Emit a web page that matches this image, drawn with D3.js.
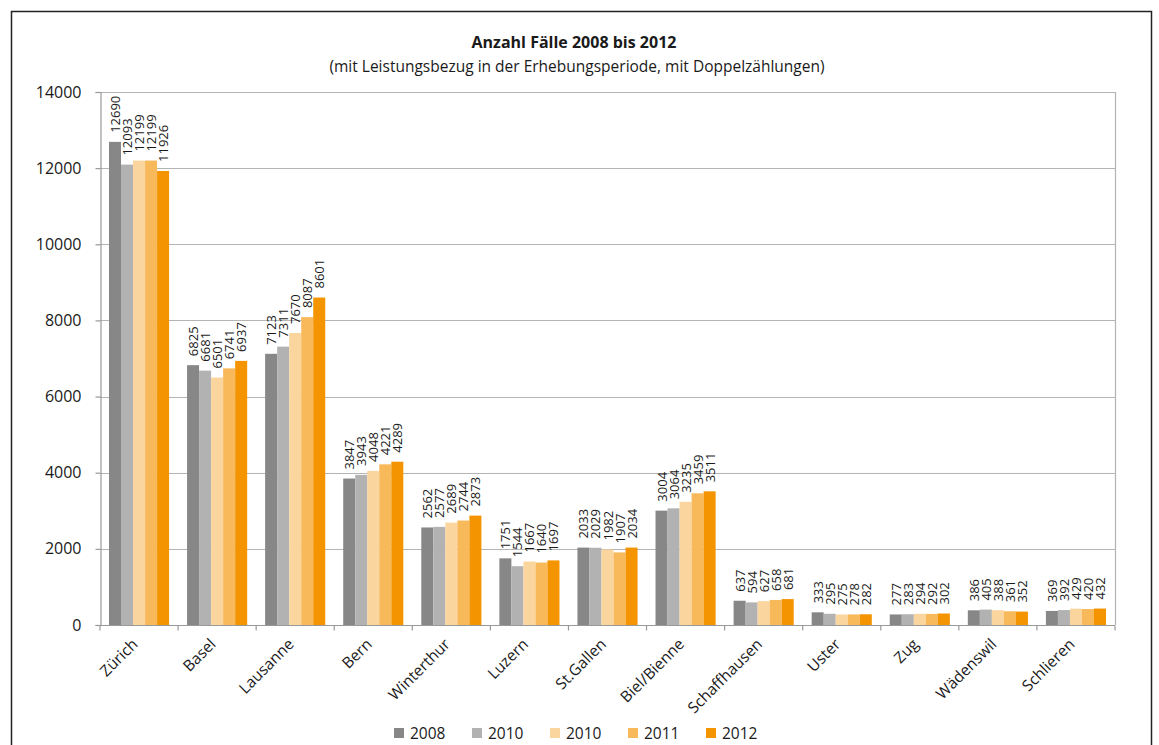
<!DOCTYPE html>
<html lang="de">
<head>
<meta charset="UTF-8" />
<title>Anzahl Fälle 2008 bis 2012</title>
<style>
  body { margin: 0; background: #fff; }
  svg text { font-family: "Open Sans", "DejaVu Sans", sans-serif; fill: #1a1a1a; }
</style>
</head>
<body>
<script src="https://cdnjs.cloudflare.com/ajax/libs/d3/7.8.5/d3.min.js"></script>
<script>

var cities = ["Zürich", "Basel", "Lausanne", "Bern", "Winterthur", "Luzern", "St.Gallen",
              "Biel/Bienne", "Schaffhausen", "Uster", "Zug", "Wädenswil", "Schlieren"];
var seriesNames = ["2008", "2010", "2010", "2011", "2012"];
var seriesColors = ["#878787", "#b2b2b2", "#fbd59e", "#f8b95b", "#f39400"];

var v2008  = [12690, 6825, 7123, 3847, 2562, 1751, 2033, 3004, 637, 333, 277, 386, 369];
var v2010a = [12093, 6681, 7311, 3943, 2577, 1544, 2029, 3064, 594, 295, 283, 405, 392];
var v2010b = [12199, 6501, 7670, 4048, 2689, 1667, 1982, 3235, 627, 275, 294, 388, 429];
var v2011  = [12199, 6741, 8087, 4221, 2744, 1640, 1907, 3459, 658, 278, 292, 361, 420];
var v2012  = [11926, 6937, 8601, 4289, 2873, 1697, 2034, 3511, 681, 282, 302, 352, 432];
var yTicks = [0, 2000, 4000, 6000, 8000, 10000, 12000, 14000];

var series = [v2008, v2010a, v2010b, v2011, v2012];

var W = 1159, H = 745;
var pLeft = 100, pRight = 1115, pTop = 92, pBottom = 625;

var svg = d3.select("body").append("svg")
            .attr("width", W)
            .attr("height", H);

// outer frame
svg.append("rect")
   .attr("x", 11.5).attr("y", 11.5)
   .attr("width", 1140).attr("height", 760)
   .attr("fill", "none")
   .attr("stroke", "#222")
   .attr("stroke-width", 1.5);

var x = d3.scaleBand().domain(cities).range([pLeft, pRight]).paddingInner(0.23).paddingOuter(0.115);
var xb = d3.scaleBand().domain(d3.range(5)).range([0, x.bandwidth()]);
var y = d3.scaleLinear().domain([0, 14000]).range([pBottom, pTop]);

// grid
svg.append("g").selectAll("line")
   .data(yTicks.slice(1))
   .enter().append("line")
   .attr("x1", pLeft).attr("x2", pRight)
   .attr("y1", function(d) { return Math.round(y(d)) + 0.5; })
   .attr("y2", function(d) { return Math.round(y(d)) + 0.5; })
   .attr("stroke", "#b4b4b4").attr("stroke-width", 1.2);

svg.append("line")
   .attr("x1", pRight + 0.5).attr("x2", pRight + 0.5)
   .attr("y1", pTop).attr("y2", pBottom)
   .attr("stroke", "#b4b4b4").attr("stroke-width", 1.2);

// y axis
var yAxis = svg.append("g")
   .attr("transform", "translate(" + (pLeft + 0.5) + ",0)")
   .call(d3.axisLeft(y).tickValues(yTicks).tickSize(5).tickPadding(14).tickFormat(d3.format("d")));
yAxis.selectAll("path, line").attr("stroke", "#999").attr("stroke-width", 1.2);
yAxis.selectAll("text").style("font-size", "16px").attr("fill", "#1a1a1a");

// bars
var groups = svg.append("g").selectAll("g")
   .data(cities)
   .enter().append("g")
   .attr("transform", function(d) { return "translate(" + x(d) + ",0)"; });

groups.selectAll("rect")
   .data(function(d, i) { return series.map(function(s, k) { return { k: k, v: s[i] }; }); })
   .enter().append("rect")
   .attr("x", function(d) { return xb(d.k); })
   .attr("y", function(d) { return y(d.v); })
   .attr("width", xb.bandwidth())
   .attr("height", function(d) { return pBottom - y(d.v); })
   .attr("fill", function(d) { return seriesColors[d.k]; });

groups.selectAll("text")
   .data(function(d, i) { return series.map(function(s, k) { return { k: k, v: s[i] }; }); })
   .enter().append("text")
   .attr("transform", function(d) {
     return "translate(" + (xb(d.k) + xb.bandwidth() / 2 + 5) + "," + (y(d.v) - 9) + ") rotate(-90)";
   })
   .style("font-size", "13px")
   .text(function(d) { return d.v; });

// x axis
var xAxis = svg.append("g")
   .attr("transform", "translate(0," + (pBottom + 0.5) + ")");
xAxis.append("line")
   .attr("x1", pLeft).attr("x2", pRight)
   .attr("stroke", "#999").attr("stroke-width", 1.2);
xAxis.selectAll("line.tick")
   .data(d3.range(cities.length + 1))
   .enter().append("line")
   .attr("class", "tick")
   .attr("x1", function(i) { return pLeft + i * (pRight - pLeft) / cities.length; })
   .attr("x2", function(i) { return pLeft + i * (pRight - pLeft) / cities.length; })
   .attr("y1", 0).attr("y2", 5)
   .attr("stroke", "#999").attr("stroke-width", 1.2);
xAxis.selectAll("text")
   .data(cities)
   .enter().append("text")
   .attr("transform", function(d) {
     return "translate(" + (x(d) + x.bandwidth() / 2 - 8) + ",12) rotate(-45)";
   })
   .attr("text-anchor", "end")
   .attr("dy", "0.7em")
   .style("font-size", "15.5px")
   .text(function(d) { return d; });

// titles
svg.append("text")
   .attr("x", 574).attr("y", 48)
   .attr("text-anchor", "middle")
   .style("font-size", "16px").style("font-weight", "bold")
   .text("Anzahl Fälle 2008 bis 2012");
svg.append("text")
   .attr("x", 577).attr("y", 72)
   .attr("text-anchor", "middle")
   .style("font-size", "15.5px")
   .text("(mit Leistungsbezug in der Erhebungsperiode, mit Doppelzählungen)");

// legend
var legend = svg.append("g").selectAll("g")
   .data(seriesNames)
   .enter().append("g")
   .attr("transform", function(d, i) { return "translate(" + (394 + i * 78) + ",728)"; });
legend.append("rect").attr("width", 10).attr("height", 10)
   .attr("fill", function(d, i) { return seriesColors[i]; });
legend.append("text").attr("x", 16).attr("y", 10.5)
   .style("font-size", "15.5px")
   .text(function(d) { return d; });

</script>
</body>
</html>
